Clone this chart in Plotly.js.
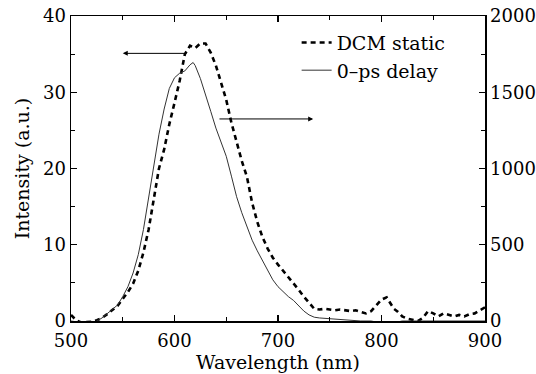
<!DOCTYPE html>
<html>
<head>
<meta charset="utf-8">
<script src="https://cdn.plot.ly/plotly-3.0.1.min.js"></script>
<style>html,body{margin:0;padding:0;background:#fff;}#chart{width:536px;height:374px;}</style>
</head>
<body>
<div id="chart"></div>
<script>
// DCM static (left axis, a.u.)
const staticWl = [500,505,510,515,520,525,530,535,540,545,550,555,560,565,570,575,580,585,590,595,600,605,610,615,620,625,630,635,640,645,650,655,660,665,670,675,680,685,690,695,700,705,710,715,720,725,730,735,740,745,750,755,760,765,770,775,780,785,790,795,800,805,808,812,816,820,825,830,835,840,845,850,855,860,865,870,875,880,885,890,895,900];
const staticVal = [0.8,0.1,-0.2,-0.2,-0.1,0.1,0.4,0.9,1.4,2.0,2.9,3.8,4.9,6.6,9.0,12.0,16.0,20.0,22.5,25.8,28.6,31.5,35.0,36.1,35.8,36.4,36.4,35.2,33.5,31.2,29.0,26.0,23.3,21.0,18.9,15.5,13.0,11.0,9.5,8.3,7.4,6.6,5.7,4.9,4.1,3.2,2.4,1.6,1.5,1.6,1.5,1.4,1.5,1.4,1.3,1.4,1.2,1.0,1.3,2.0,2.8,3.1,2.4,1.6,1.2,0.6,0.3,0.1,0.0,0.4,1.3,1.0,0.6,1.0,0.8,0.6,0.8,0.6,0.9,1.0,1.4,1.8];
// 0-ps delay (right axis)
const delayWl = [500,510,520,525,530,535,540,545,550,555,560,565,570,575,580,585,590,595,600,605,610,615,618,620,625,630,635,640,645,650,655,660,665,670,675,680,685,690,695,700,705,710,715,720,725,730,735,740,750,760,770,780,790,795,800,805,810,815,820,840,860,880,900];
const delayVal = [0,-10,-10,0,20,50,80,105,160,225,315,435,600,800,1025,1225,1390,1525,1595,1625,1640,1680,1695,1675,1590,1475,1375,1265,1165,1080,950,815,710,620,530,460,395,330,270,225,190,160,135,100,65,40,25,20,15,10,5,0,0,-5,-15,-20,-15,-5,0,0,0,0,0];

const seriesNames = ['DCM static', '0\u2013ps delay'];
const xTitle = 'Wavelength (nm)';
const yTitle = 'Intensity (a.u.)';

const FONT = "'DejaVu Serif', 'Liberation Serif', serif";
const FS = 19;
const TFS = 18;

const traces = [
  {x: staticWl, y: staticVal, name: seriesNames[0], type: 'scatter', mode: 'lines',
   line: {color: '#000', width: 2.6, dash: '5px,4px'}, yaxis: 'y'},
  {x: delayWl, y: delayVal, name: seriesNames[1], type: 'scatter', mode: 'lines',
   line: {color: '#333', width: 1}, yaxis: 'y2'}
];

const axisCommon = {
  showgrid: false, zeroline: false, showline: true, linecolor: '#000', linewidth: 1.5,
  ticks: 'inside', ticklen: 6, tickwidth: 1.2, tickcolor: '#000',
  tickfont: {family: FONT, size: TFS, color: '#000'}
};

const layout = {
  width: 536, height: 374,
  font: {family: FONT, size: FS, color: '#000'},
  margin: {l: 71, r: 51, t: 16, b: 53},
  paper_bgcolor: '#fff', plot_bgcolor: '#fff',
  showlegend: true,
  legend: {x: 0.545, y: 0.975, xanchor: 'left', yanchor: 'top', bgcolor: 'rgba(0,0,0,0)',
           font: {family: FONT, size: FS, color: '#000'}, tracegroupgap: 0},
  xaxis: Object.assign({}, axisCommon, {range: [500, 900], dtick: 100, tick0: 500, mirror: 'ticks',
    ticklabelstandoff: 3,
    minor: {dtick: 50, ticklen: 4, tickcolor: '#000', ticks: 'inside'},
    title: {text: xTitle, font: {family: FONT, size: FS, color: '#000'}, standoff: 2}}),
  yaxis: Object.assign({}, axisCommon, {range: [0, 40], dtick: 10, tick0: 0,
    minor: {dtick: 5, ticklen: 4, tickcolor: '#000', ticks: 'inside'},
    title: {text: yTitle, font: {family: FONT, size: FS, color: '#000'}, standoff: 8}}),
  yaxis2: Object.assign({}, axisCommon, {range: [0, 2000], dtick: 500, tick0: 0, overlaying: 'y', side: 'right',
    minor: {dtick: 250, ticklen: 4, tickcolor: '#000', ticks: 'inside'}}),
  annotations: [
    {x: 550, y: 35.1, ax: 613, ay: 35.1, xref: 'x', yref: 'y', axref: 'x', ayref: 'y',
     text: '', showarrow: true, arrowhead: 2, arrowsize: 1, arrowwidth: 1, arrowcolor: '#000'},
    {x: 734, y: 26.5, ax: 642, ay: 26.5, xref: 'x', yref: 'y', axref: 'x', ayref: 'y',
     text: '', showarrow: true, arrowhead: 2, arrowsize: 1, arrowwidth: 1, arrowcolor: '#000'}
  ]
};

Plotly.newPlot('chart', traces, layout, {displayModeBar: false, staticPlot: true});
</script>
</body>
</html>
